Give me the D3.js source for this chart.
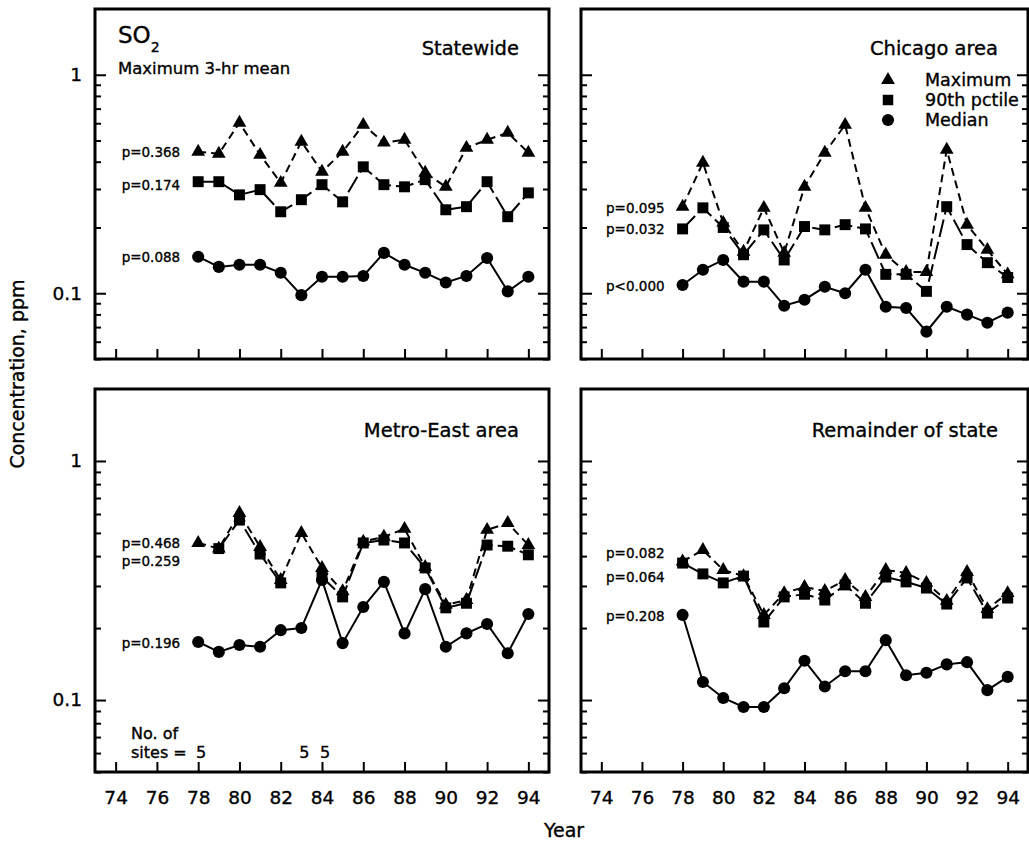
<!DOCTYPE html>
<html lang="en">
  <meta charset="UTF-8" />
  <title>SO2 Maximum 3-hr mean</title>
  <style>
    body { margin: 0; background: #fff; }
    svg text { font-family: "DejaVu Sans", sans-serif; fill: #000; stroke: #000; stroke-width: 0.35; }
  </style>
  <script src="https://d3js.org/d3.v7.min.js"></script>
  <body>
    <div id="chart"></div>
  <script>
    // years on the x axis (19xx)
    const years = [78, 79, 80, 81, 82, 83, 84, 85, 86, 87, 88, 89, 90, 91, 92, 93, 94];

    const statewideMax = [0.444, 0.435, 0.603, 0.43, 0.32, 0.494, 0.36, 0.444, 0.59, 0.489, 0.504, 0.356, 0.307, 0.463, 0.504, 0.543, 0.44];
    const statewideP90 = [0.324, 0.324, 0.282, 0.298, 0.236, 0.268, 0.314, 0.262, 0.379, 0.314, 0.307, 0.331, 0.241, 0.249, 0.324, 0.224, 0.288];
    const statewideMed = [0.147, 0.132, 0.135, 0.135, 0.124, 0.098, 0.119, 0.119, 0.12, 0.153, 0.135, 0.124, 0.112, 0.12, 0.145, 0.102, 0.119];

    const chicagoMax = [0.249, 0.396, 0.21, 0.155, 0.246, 0.153, 0.307, 0.44, 0.59, 0.246, 0.15, 0.125, 0.125, 0.454, 0.206, 0.158, 0.122];
    const chicagoP90 = [0.197, 0.246, 0.2, 0.15, 0.195, 0.142, 0.202, 0.195, 0.206, 0.197, 0.122, 0.122, 0.102, 0.249, 0.167, 0.138, 0.118];
    const chicagoMed = [0.109, 0.128, 0.142, 0.113, 0.113, 0.0877, 0.0934, 0.107, 0.1, 0.128, 0.0867, 0.0856, 0.0667, 0.0867, 0.0798, 0.0733, 0.0815];

    const metroMax = [0.454, 0.43, 0.606, 0.437, 0.318, 0.5, 0.357, 0.285, 0.46, 0.482, 0.52, 0.36, 0.25, 0.262, 0.515, 0.55, 0.445];
    const metroP90 = [null, 0.43, 0.566, 0.408, 0.309, null, 0.327, 0.27, 0.454, 0.467, 0.454, 0.357, 0.243, 0.254, 0.445, 0.44, 0.405];
    const metroMed = [0.175, 0.159, 0.17, 0.167, 0.196, 0.2, 0.318, 0.173, 0.245, 0.312, 0.19, 0.291, 0.167, 0.19, 0.208, 0.157, 0.229];

    const remainderMax = [0.38, 0.424, 0.35, 0.33, 0.227, 0.28, 0.297, 0.286, 0.318, 0.27, 0.35, 0.34, 0.309, 0.26, 0.343, 0.24, 0.28];
    const remainderP90 = [0.374, 0.337, 0.309, 0.33, 0.212, 0.27, 0.277, 0.262, 0.303, 0.254, 0.327, 0.312, 0.294, 0.252, 0.324, 0.231, 0.267];
    const remainderMed = [0.227, 0.119, 0.102, 0.0935, 0.0935, 0.112, 0.146, 0.114, 0.132, 0.132, 0.178, 0.127, 0.13, 0.141, 0.144, 0.11, 0.125];

    // trend p-values, and the concentration level each label sits at
    const statewidePText = ["p=0.368", "p=0.174", "p=0.088"];
    const statewidePAt = [0.444, 0.314, 0.147];
    const chicagoPText = ["p=0.095", "p=0.032", "p<0.000"];
    const chicagoPAt = [0.246, 0.197, 0.108];
    const metroPText = ["p=0.468", "p=0.259", "p=0.196"];
    const metroPAt = [0.454, 0.381, 0.173];
    const remainderPText = ["p=0.082", "p=0.064", "p=0.208"];
    const remainderPAt = [0.412, 0.327, 0.225];

    const siteYears = [78, 83, 84];
    const siteCounts = [5, 5, 5];

    const xTicks = [74, 76, 78, 80, 82, 84, 86, 88, 90, 92, 94];
    const yMajor = [0.1, 1];
    const yMajorLabels = ["0.1", "1"];
    const yMinor = [0.05, 0.06, 0.07, 0.08, 0.09, 0.2, 0.3, 0.4, 0.5, 0.6, 0.7, 0.8, 0.9];

    const legendNames = ["Maximum", "90th pctile", "Median"];

    var svg = d3.select("#chart").append("svg").attr("width", 1029).attr("height", 843);

    var panels = [
      { title: "Statewide", max: statewideMax, p90: statewideP90, med: statewideMed, pText: statewidePText, pAt: statewidePAt,
        left: 95, right: 549, top: 9, bottom: 359, yLabels: true, xLabels: false },
      { title: "Chicago area", max: chicagoMax, p90: chicagoP90, med: chicagoMed, pText: chicagoPText, pAt: chicagoPAt,
        left: 581, right: 1028, top: 9, bottom: 359, yLabels: false, xLabels: false, legend: true },
      { title: "Metro-East area", max: metroMax, p90: metroP90, med: metroMed, pText: metroPText, pAt: metroPAt,
        left: 95, right: 549, top: 389, bottom: 772, yLabels: true, xLabels: true, sites: true },
      { title: "Remainder of state", max: remainderMax, p90: remainderP90, med: remainderMed, pText: remainderPText, pAt: remainderPAt,
        left: 581, right: 1028, top: 389, bottom: 772, yLabels: false, xLabels: true },
    ];

    function styleAxis(g) {
      g.select(".domain").remove();
      g.selectAll(".tick line").attr("stroke", "#000").attr("stroke-width", 2);
      g.attr("font-family", "DejaVu Sans").attr("font-size", 18.5);
    }

    panels.forEach(function (p) {
      var x = d3.scaleLinear().domain([73, 95]).range([p.left, p.right]);
      var y = d3.scaleLog().domain([0.05, 2]).range([p.bottom, p.top]);
      var g = svg.append("g");

      // ticks point inward on all three sides
      g.append("g").attr("transform", "translate(" + p.left + ",0)")
        .call(d3.axisLeft(y).tickValues(yMajor).tickSize(-11).tickPadding(13)
          .tickFormat((d, i) => (p.yLabels ? yMajorLabels[i] : "")))
        .call(styleAxis);
      g.append("g").attr("transform", "translate(" + p.left + ",0)")
        .call(d3.axisLeft(y).tickValues(yMinor).tickSize(-6).tickFormat(""))
        .call(styleAxis);
      g.append("g").attr("transform", "translate(" + p.right + ",0)")
        .call(d3.axisRight(y).tickValues(yMajor).tickSize(-11).tickFormat(""))
        .call(styleAxis);
      g.append("g").attr("transform", "translate(" + p.right + ",0)")
        .call(d3.axisRight(y).tickValues(yMinor).tickSize(-6).tickFormat(""))
        .call(styleAxis);
      g.append("g").attr("transform", "translate(0," + p.bottom + ")")
        .call(d3.axisBottom(x).tickValues(xTicks).tickSize(-10).tickPadding(19)
          .tickFormat((d) => (p.xLabels ? d : "")))
        .call(styleAxis);

      g.append("rect")
        .attr("x", p.left).attr("y", p.top)
        .attr("width", p.right - p.left).attr("height", p.bottom - p.top)
        .attr("fill", "none").attr("stroke", "#000").attr("stroke-width", 3);

      var series = [
        { vals: p.max, sym: d3.symbolTriangle, size: 82, dash: "8,5" },
        { vals: p.p90, sym: d3.symbolSquare, size: 120, dash: "18,5" },
        { vals: p.med, sym: d3.symbolCircle, size: 115, dash: null },
      ];

      var line = d3.line()
        .defined((d) => d != null)
        .x((d, i) => x(years[i]))
        .y((d) => y(d));

      series.forEach(function (s) {
        g.append("path")
          .attr("d", line(s.vals))
          .attr("fill", "none").attr("stroke", "#000").attr("stroke-width", 2)
          .attr("stroke-dasharray", s.dash);
      });
      series.forEach(function (s) {
        g.selectAll(null)
          .data(s.vals.map((v, i) => [years[i], v]).filter((d) => d[1] != null))
          .enter().append("path")
          .attr("transform", (d) => "translate(" + x(d[0]) + "," + y(d[1]) + ")")
          .attr("d", d3.symbol().type(s.sym).size(s.size))
          .attr("fill", "#000");
      });

      // p-value labels
      g.selectAll(null).data(p.pText).enter().append("text")
        .attr("x", x(years[0]) - 18)
        .attr("y", (d, i) => y(p.pAt[i]))
        .attr("dy", "0.36em")
        .attr("text-anchor", "end")
        .attr("font-size", 13.5)
        .text((d) => d);

      g.append("text")
        .attr("x", p.right - 30).attr("y", p.top + (p.top < 100 ? 46 : 48))
        .attr("text-anchor", "end").attr("font-size", 19.5)
        .text(p.title);

      if (p.legend) {
        var lsym = [d3.symbolTriangle, d3.symbolSquare, d3.symbolCircle];
        var lsize = [82, 110, 115];
        var ly = [80, 100, 120];
        legendNames.forEach(function (name, i) {
          g.append("path")
            .attr("transform", "translate(888," + ly[i] + ")")
            .attr("d", d3.symbol().type(lsym[i]).size(lsize[i]))
            .attr("fill", "#000");
          g.append("text").attr("x", 925).attr("y", ly[i]).attr("dy", "0.36em")
            .attr("font-size", 17.5).text(name);
        });
      }

      if (p.sites) {
        g.append("text").attr("x", 131).attr("y", 739).attr("font-size", 16).text("No. of");
        g.append("text").attr("x", 131).attr("y", 758).attr("font-size", 16).text("sites =");
        g.selectAll(null).data(siteYears).enter().append("text")
          .attr("x", (d) => x(d) + 3).attr("y", 758)
          .attr("text-anchor", "middle").attr("font-size", 16)
          .text((d, i) => siteCounts[i]);
      }
    });

    // SO2 heading in the first panel
    var head = svg.append("text").attr("x", 118).attr("y", 43).attr("font-size", 23);
    head.append("tspan").text("SO");
    head.append("tspan").attr("font-size", 14).attr("dy", 9).text("2");
    svg.append("text").attr("x", 118).attr("y", 74).attr("font-size", 16.5).text("Maximum 3-hr mean");

    svg.append("text")
      .attr("transform", "translate(24,374) rotate(-90)")
      .attr("text-anchor", "middle").attr("font-size", 19)
      .text("Concentration, ppm");
    svg.append("text")
      .attr("x", 564).attr("y", 837)
      .attr("text-anchor", "middle").attr("font-size", 19)
      .text("Year");
  </script>
  </body>
</html>
